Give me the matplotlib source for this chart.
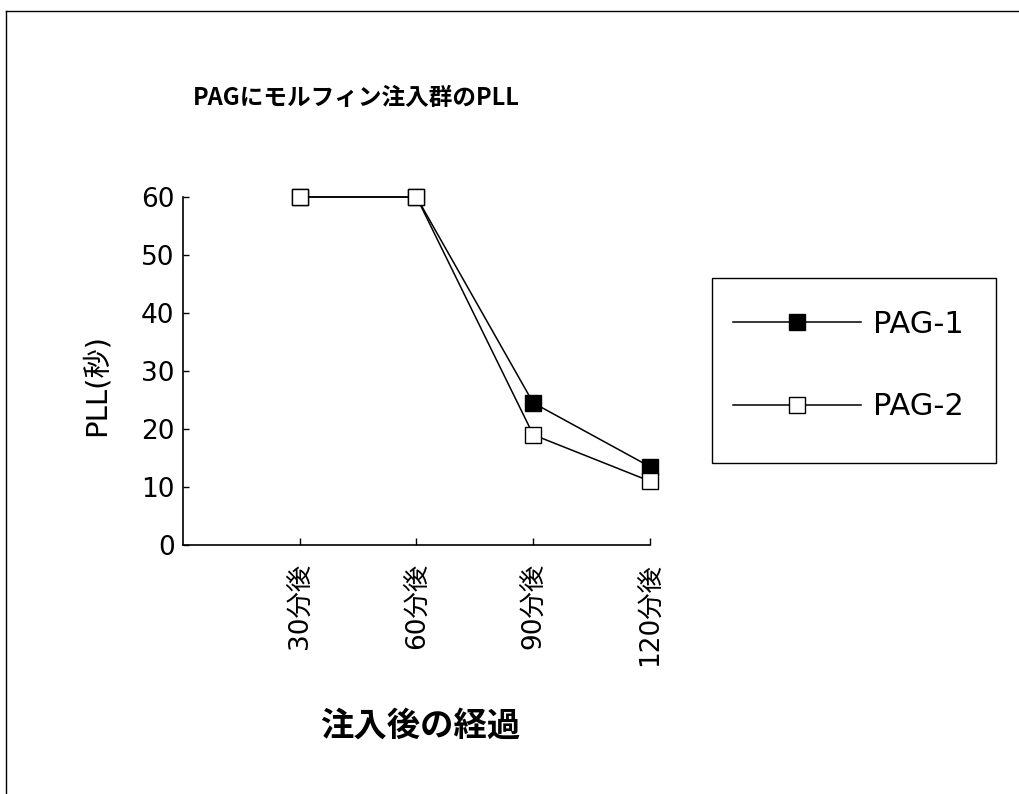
import matplotlib.pyplot as plt
from matplotlib.lines import Line2D
from matplotlib.patches import Rectangle

plt.rcParams['font.family'] = ['DejaVu Sans', 'Noto Sans CJK JP']

# PLL (seconds) after injection into PAG
time_labels = ['30分後', '60分後', '90分後', '120分後']
pag1 = [60, 60, 24.5, 13.5]
pag2 = [60, 60, 19, 11]

W, H = 1020, 794
fig = plt.figure(figsize=(W / 100, H / 100), dpi=100)
ax = fig.add_axes([183 / W, 1 - 545 / H, (650 - 183) / W, (545 - 197) / H])

x = list(range(1, len(time_labels) + 1))
ax.plot(x, pag1, color='black', lw=1.1, marker='s', ms=11,
        mfc='black', mec='black', mew=1.0, label='PAG-1', clip_on=False, zorder=3)
ax.plot(x, pag2, color='black', lw=1.1, marker='s', ms=11,
        mfc='white', mec='black', mew=1.0, label='PAG-2', clip_on=False, zorder=4)

ax.set_xlim(0, len(time_labels))
ax.set_ylim(0, 60)
ax.set_yticks(range(0, 61, 10))
ax.set_xticks(x)
ax.set_xticklabels(time_labels, rotation=90, va='top', ha='center')
for s in ['top', 'right']:
    ax.spines[s].set_visible(False)
for s in ['left', 'bottom']:
    ax.spines[s].set_linewidth(1.2)
ax.tick_params(axis='y', direction='in', length=4, width=1, pad=6, labelsize=19)
ax.tick_params(axis='x', direction='in', length=5, width=1, pad=13, labelsize=19)

ax.set_ylabel('PLL(秒)', fontsize=21)
ax.yaxis.set_label_coords(-0.156, 0.46)
ax.set_xlabel('注入後の経過', fontsize=24, fontweight='bold')
ax.xaxis.set_label_coords(0.507, -0.474)

fig.text(193 / W, 1 - 98 / H, 'PAGにモルフィン注入群のPLL', fontsize=17,
         fontweight='bold', family=['Noto Sans CJK JP'], ha='left', va='center')

# legend entries without their own frame; box drawn separately
leg = ax.legend(loc='upper left', bbox_to_anchor=(733 / W, 1 - 310 / H),
                bbox_transform=fig.transFigure, fontsize=22, frameon=False,
                handlelength=4.2, handletextpad=0.37,
                labelspacing=1.75, borderpad=0, borderaxespad=0)
fig.add_artist(Rectangle((712 / W, 1 - 463 / H), (996 - 712) / W, (463 - 278) / H,
                         transform=fig.transFigure, fill=False,
                         edgecolor='black', lw=1.0))

# outer frame of the sheet
fig.add_artist(Line2D([6 / W, 1], [1 - 11 / H, 1 - 11 / H], color='black', lw=1.0))
fig.add_artist(Line2D([6 / W, 6 / W], [0, 1 - 11 / H], color='black', lw=1.0))

fig.savefig('out.png', dpi=100)
